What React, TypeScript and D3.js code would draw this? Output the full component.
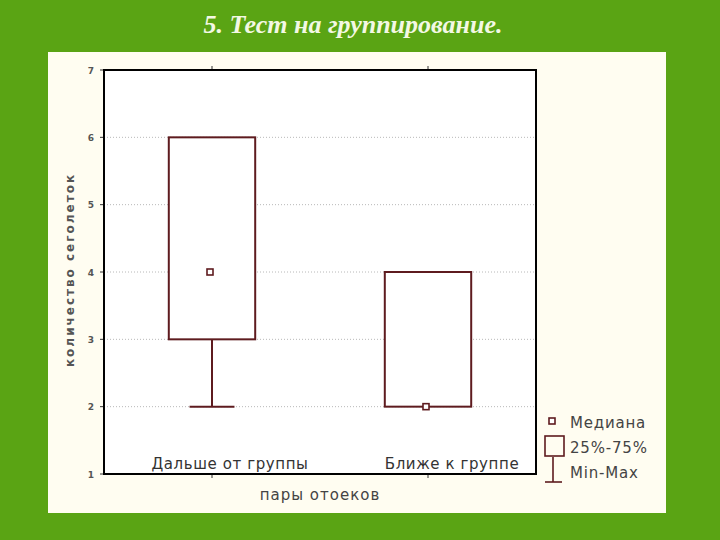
import React from "react"
import * as d3 from "d3"

// data
const categories = ["Дальше от группы", "Ближе к группе"]
const medians = [4, 2]
const q1 = [3, 2]
const q3 = [6, 4]
const mins = [2, 2]
const maxs = [6, 4]
const yTicks = [1, 2, 3, 4, 5, 6, 7]
const legendLabels = ["Медиана", "25%-75%", "Min-Max"]

const W = 720
const H = 540
const plot = { left: 104, top: 70, right: 536, bottom: 474 }
const boxColor = "#5e1b1f"
const sans = "'DejaVu Sans', Verdana, sans-serif"

export default function App() {
  const x = d3.scaleBand().domain(categories).range([plot.left, plot.right]).padding(0)
  const y = d3.scaleLinear().domain([1, 7]).range([plot.bottom, plot.top])
  const boxW = x.bandwidth() * 0.4
  const capW = boxW * 0.52

  return (
    <svg
      width={W}
      height={H}
      style={{ position: "absolute", left: 0, top: 0, display: "block" }}
    >
      <rect x={0} y={0} width={W} height={H} fill="#5aa414" />
      <text
        x={353}
        y={33}
        textAnchor="middle"
        fontFamily="'Liberation Serif', 'DejaVu Serif', serif"
        fontStyle="italic"
        fontWeight="bold"
        fontSize={26}
        fill="#f3f8e4"
      >
        5. Тест на группирование.
      </text>
      <rect x={48} y={52} width={618} height={461} fill="#fffdf1" />
      <rect
        x={plot.left}
        y={plot.top}
        width={plot.right - plot.left}
        height={plot.bottom - plot.top}
        fill="#ffffff"
      />

      {/* dotted grid */}
      {yTicks
        .filter((t) => t > 1 && t < 7)
        .map((t) => (
          <line
            key={"g" + t}
            x1={plot.left}
            x2={plot.right}
            y1={y(t)}
            y2={y(t)}
            stroke="#b8b8b8"
            strokeWidth={1}
            strokeDasharray="1,2"
          />
        ))}

      {/* y tick labels and ticks */}
      {yTicks.map((t) => (
        <g key={"t" + t}>
          <line x1={plot.left - 4} x2={plot.left} y1={y(t)} y2={y(t)} stroke="#333" strokeWidth={1} />
          <text
            x={plot.left - 10}
            y={y(t) + 3.5}
            textAnchor="end"
            fontFamily={sans}
            fontWeight="bold"
            fontSize={9}
            fill="#555"
          >
            {t}
          </text>
        </g>
      ))}

      {/* x ticks top and bottom */}
      {categories.map((c) => {
        const cx = (x(c) as number) + x.bandwidth() / 2
        return (
          <g key={"xt" + c}>
            <line x1={cx} x2={cx} y1={plot.top - 4} y2={plot.top} stroke="#333" />
            <line x1={cx} x2={cx} y1={plot.bottom} y2={plot.bottom + 4} stroke="#333" />
          </g>
        )
      })}

      {/* boxes */}
      {categories.map((c, i) => {
        const cx = (x(c) as number) + x.bandwidth() / 2
        return (
          <g key={"b" + c}>
            {mins[i] < q1[i] && (
              <>
                <line x1={cx} x2={cx} y1={y(q1[i])} y2={y(mins[i])} stroke={boxColor} strokeWidth={2} />
                <line
                  x1={cx - capW / 2}
                  x2={cx + capW / 2}
                  y1={y(mins[i])}
                  y2={y(mins[i])}
                  stroke={boxColor}
                  strokeWidth={2}
                />
              </>
            )}
            {maxs[i] > q3[i] && (
              <>
                <line x1={cx} x2={cx} y1={y(q3[i])} y2={y(maxs[i])} stroke={boxColor} strokeWidth={2} />
                <line
                  x1={cx - capW / 2}
                  x2={cx + capW / 2}
                  y1={y(maxs[i])}
                  y2={y(maxs[i])}
                  stroke={boxColor}
                  strokeWidth={2}
                />
              </>
            )}
            <rect
              x={cx - boxW / 2}
              y={y(q3[i])}
              width={boxW}
              height={y(q1[i]) - y(q3[i])}
              fill="#ffffff"
              stroke={boxColor}
              strokeWidth={2}
            />
            <rect
              x={cx - 5}
              y={y(medians[i]) - 3}
              width={6}
              height={6}
              fill="#ffffff"
              stroke={boxColor}
              strokeWidth={1.6}
            />
          </g>
        )
      })}

      {/* category labels inside the plot */}
      {categories.map((c, i) => (
        <text
          key={"cl" + c}
          x={(x(c) as number) + x.bandwidth() / 2 + (i === 0 ? 18 : 24)}
          y={plot.bottom - 5}
          textAnchor="middle"
          fontFamily={sans}
          fontSize={15}
          letterSpacing={0.6}
          fill="#333"
        >
          {c}
        </text>
      ))}

      {/* frame */}
      <rect
        x={plot.left}
        y={plot.top}
        width={plot.right - plot.left}
        height={plot.bottom - plot.top}
        fill="none"
        stroke="#000"
        strokeWidth={2}
      />

      {/* axis titles */}
      <text
        x={320}
        y={500}
        textAnchor="middle"
        fontFamily={sans}
        fontSize={15}
        letterSpacing={1}
        fill="#444"
      >
        пары отоеков
      </text>
      <text
        transform={`translate(74,${(plot.top + plot.bottom) / 2 - 2}) rotate(-90)`}
        textAnchor="middle"
        fontFamily={sans}
        fontWeight="bold"
        fontSize={12}
        letterSpacing={2}
        fill="#555"
      >
        количество сеголеток
      </text>

      {/* legend */}
      <rect x={549} y={418} width={6} height={6} fill="#fff" stroke={boxColor} strokeWidth={1.6} />
      <rect x={545} y={436} width={19} height={20} fill="none" stroke={boxColor} strokeWidth={1.6} />
      <line x1={553} x2={553} y1={457} y2={482} stroke={boxColor} strokeWidth={1.6} />
      <line x1={545} x2={562} y1={482} y2={482} stroke={boxColor} strokeWidth={1.6} />
      {legendLabels.map((t, i) => (
        <text
          key={t}
          x={570}
          y={428 + i * 25}
          fontFamily={sans}
          fontSize={15}
          letterSpacing={0.8}
          fill="#444"
        >
          {t}
        </text>
      ))}
    </svg>
  )
}
